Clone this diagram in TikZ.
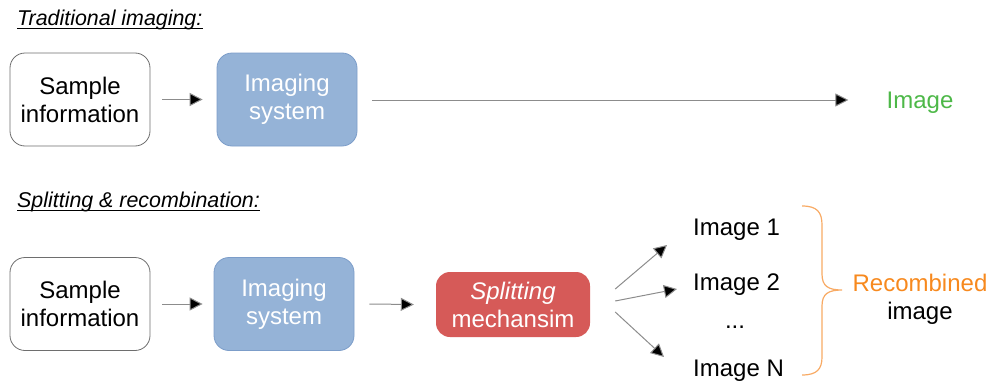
\documentclass[tikz,border=0pt]{standalone}
\usepackage{fontspec}
\setmainfont{Liberation Sans}
\usetikzlibrary{arrows.meta}
\definecolor{imgfill}{HTML}{95B3D7}
\definecolor{imgdraw}{HTML}{7C9DC9}
\definecolor{splitfill}{HTML}{D65A58}
\definecolor{greentxt}{HTML}{4DB848}
\definecolor{orangetxt}{HTML}{F7891E}
\definecolor{bracecol}{HTML}{F8AA64}
\definecolor{linegray}{HTML}{8C8C8C}
\definecolor{boxdraw}{HTML}{6E6E6E}
\begin{document}
\begin{tikzpicture}[x=1pt,y=-1pt,
  txt/.style={font=\fontsize{24}{28}\selectfont, align=center, inner sep=0pt},
  whitebox/.style={txt, draw=boxdraw, line width=0.8pt, rounded corners=15pt, minimum width=140pt, minimum height=93pt, fill=white},
  imgbox/.style={txt, draw=imgdraw, line width=0.8pt, fill=imgfill, text=white, rounded corners=15pt, minimum width=140pt, minimum height=93pt},
  splitbox/.style={txt, fill=splitfill, text=white, rounded corners=14pt, minimum width=154pt, minimum height=65pt},
  ttl/.style={font=\fontsize{21.4}{25}\selectfont\itshape, inner sep=0pt, anchor=base west},
  arr/.style={draw=linegray, line width=1pt, -{Triangle[length=13pt,width=13pt,fill=black]}},
  imlabel/.style={txt, anchor=west}
]
\useasboundingbox (0,0) rectangle (992,380);

% titles
\node[ttl] (t1) at (17,25) {Traditional imaging:};
\draw[line width=1pt] ([yshift=-3pt]t1.base west) -- ([yshift=-3pt]t1.base east);
\node[ttl] (t2) at (17,207) {Splitting \& recombination:};
\draw[line width=1pt] ([yshift=-3pt]t2.base west) -- ([yshift=-3pt]t2.base east);

% top row
\node[whitebox] (sa) at (80,99.5) {Sample\\information};
\node[imgbox] (ia) at (287,99.5) {Imaging\\system};
\node[txt, text=greentxt] (oa) at (920,103) {Image};
\draw[arr] ([xshift=12pt]sa.east) -- ([xshift=-14pt]ia.west);
\draw[arr] ([xshift=15pt,yshift=-0.5pt]ia.east) -- ([xshift=-38pt,yshift=3pt]oa.west);

% bottom row
\node[whitebox] (sb) at (80,304) {Sample\\information};
\node[imgbox] (ib) at (284,304) {Imaging\\system};
\node[splitbox] (sp) at (513,304.5) {\itshape Splitting\\mechansim};
\draw[arr] ([xshift=12pt]sb.east) -- ([xshift=-11pt]ib.west);
\draw[arr] ([xshift=15pt]ib.east) -- ([xshift=-22pt]sp.west);

\node[imlabel] (i1) at (693,230) {Image 1};
\node[imlabel] (i2) at (693,284.5) {Image 2};
\node[txt] (id) at (735,327) {...};
\node[imlabel] (iN) at (693,370.5) {Image N};

\draw[arr] ([shift={(25,-15.5)}]sp.east) -- ([shift={(-26,15)}]i1.west);
\draw[arr] ([shift={(25,-3.5)}]sp.east) -- ([shift={(-16,4.5)}]i2.west);
\draw[arr] ([shift={(25,7.5)}]sp.east) -- ([shift={(-29,-13.5)}]iN.west);

% brace
\draw[bracecol, line width=1.2pt]
  (802,206) .. controls (817,206) and (822,212) .. (822,225) -- (822,274)
  .. controls (822,286) and (828,290) .. (842,290)
  .. controls (828,290) and (822,294) .. (822,306) -- (822,357)
  .. controls (822,369) and (817,375) .. (802,375);

\node[txt] (rc) at (920,299) {\textcolor{orangetxt}{Recombined}\\image};
\end{tikzpicture}
\end{document}
